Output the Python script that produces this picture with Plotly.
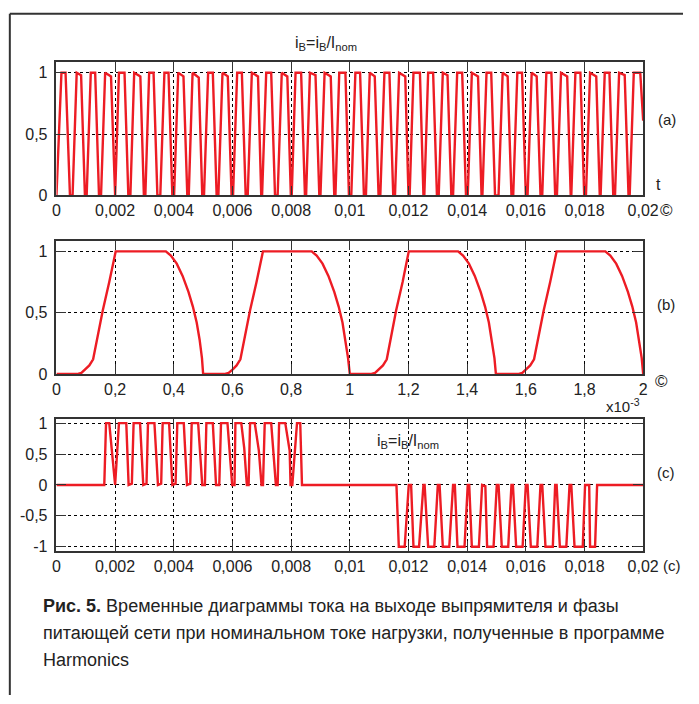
import plotly.graph_objects as go

W, H = 699, 704
RED = "#ed1c24"
AX = "#333333"

# ---------------- data ----------------
# (a) rectifier output current i_B = i_B / I_nom, t in seconds
a_t = [
    0.00000, 0.00017, 0.00031, 0.00046,
    0.00055, 0.00069, 0.00084, 0.00097,
    0.00103, 0.00117, 0.00132, 0.00145,
    0.00152, 0.00166, 0.00186, 0.00198,
    0.00200, 0.00213, 0.00232, 0.00245,
    0.00252, 0.00265, 0.00286, 0.00298,
    0.00303, 0.00316, 0.00331, 0.00344,
    0.00354, 0.00368, 0.00382, 0.00395,
    0.00401, 0.00415, 0.00433, 0.00446,
    0.00451, 0.00464, 0.00485, 0.00497,
    0.00503, 0.00517, 0.00533, 0.00546,
    0.00552, 0.00566, 0.00584, 0.00597,
    0.00602, 0.00616, 0.00632, 0.00645,
    0.00652, 0.00666, 0.00687, 0.00698,
    0.00701, 0.00715, 0.00732, 0.00745,
    0.00754, 0.00768, 0.00787, 0.00799,
    0.00802, 0.00815, 0.00834, 0.00847,
    0.00851, 0.00864, 0.00883, 0.00896,
    0.00900, 0.00914, 0.00935, 0.00947,
    0.00951, 0.00964, 0.00985, 0.00997,
    0.01005, 0.01019, 0.01035, 0.01048,
    0.01055, 0.01068, 0.01085, 0.01098,
    0.01104, 0.01118, 0.01135, 0.01148,
    0.01154, 0.01168, 0.01189, 0.01200,
    0.01204, 0.01217, 0.01239, 0.01251,
    0.01254, 0.01267, 0.01284, 0.01297,
    0.01303, 0.01317, 0.01333, 0.01346,
    0.01352, 0.01366, 0.01383, 0.01396,
    0.01402, 0.01416, 0.01437, 0.01449,
    0.01452, 0.01466, 0.01482, 0.01495,
    0.01507, 0.01521, 0.01538, 0.01551,
    0.01557, 0.01571, 0.01587, 0.01600,
    0.01606, 0.01620, 0.01637, 0.01650,
    0.01656, 0.01670, 0.01687, 0.01700,
    0.01706, 0.01720, 0.01741, 0.01753,
    0.01755, 0.01769, 0.01786, 0.01799,
    0.01805, 0.01819, 0.01840, 0.01852,
    0.01855, 0.01869, 0.01885, 0.01898,
    0.01904, 0.01918, 0.01937, 0.01950,
    0.01954, 0.01968, 0.01990, 0.02000,
]
a_y = [
    0, 1, 1, 0,
    0, 1, 0.98, 0,
    0, 1, 1, 0,
    0, 1, 0.97, 0,
    0, 1, 1, 0,
    0, 1, 0.97, 0,
    0, 1, 1, 0,
    0, 1, 1, 0,
    0, 1, 0.97, 0,
    0, 1, 0.96, 0,
    0, 1, 1, 0,
    0, 1, 0.97, 0,
    0, 1, 1, 0,
    0, 1, 0.97, 0,
    0, 1, 1, 0,
    0, 1, 0.97, 0,
    0, 1, 1, 0,
    0, 1, 0.98, 0,
    0, 1, 0.97, 0,
    0, 1, 1, 0,
    0, 1, 1, 0,
    0, 1, 0.97, 0,
    0, 1, 1, 0,
    0, 1, 0.97, 0,
    0, 1, 1, 0,
    0, 1, 1, 0,
    0, 1, 0.98, 0,
    0, 1, 1, 0,
    0, 1, 0.97, 0,
    0, 1, 1, 0,
    0, 1, 0.97, 0,
    0, 1, 1, 0,
    0, 1, 0.97, 0,
    0, 1, 1, 0,
    0, 1, 0.97, 0,
    0, 1, 1, 0,
    0, 1, 0.97, 0,
    0, 1, 1, 0,
    0, 1, 0.98, 0,
    0, 1, 1, 0.61,
]

# (b) zoomed current, t in units of 1e-3 s
b_t = [
    0.000, 0.070, 0.085, 0.100, 0.112, 0.125, 0.158, 0.180, 0.202,
    0.373, 0.390, 0.410, 0.430, 0.450, 0.465, 0.478, 0.488, 0.496, 0.500,
    0.572, 0.587, 0.602, 0.614, 0.627, 0.660, 0.682, 0.704,
    0.870, 0.887, 0.907, 0.927, 0.947, 0.962, 0.975, 0.985, 0.994, 1.000,
    1.071, 1.086, 1.101, 1.113, 1.126, 1.158, 1.180, 1.201,
    1.369, 1.386, 1.406, 1.426, 1.446, 1.461, 1.474, 1.484, 1.493, 1.498,
    1.573, 1.588, 1.603, 1.615, 1.628, 1.661, 1.683, 1.705,
    1.871, 1.888, 1.908, 1.928, 1.948, 1.963, 1.976, 1.986, 1.995, 2.000,
]
b_y = [
    0, 0, 0.01, 0.04, 0.07, 0.12, 0.52, 0.75, 1,
    1, 0.965, 0.9, 0.8, 0.67, 0.55, 0.42, 0.28, 0.13, 0,
    0, 0.01, 0.04, 0.07, 0.12, 0.52, 0.75, 1,
    1, 0.965, 0.9, 0.8, 0.67, 0.55, 0.42, 0.28, 0.13, 0,
    0, 0.01, 0.04, 0.07, 0.12, 0.52, 0.75, 1,
    1, 0.965, 0.9, 0.8, 0.67, 0.55, 0.42, 0.28, 0.13, 0,
    0, 0.01, 0.04, 0.07, 0.12, 0.52, 0.75, 1,
    1, 0.965, 0.9, 0.8, 0.67, 0.55, 0.42, 0.28, 0.13, 0,
]

# (c) phase current of the supply network, t in seconds
c_t = [
    0.00000, 0.00163, 0.00169, 0.00180, 0.00200,
    0.00213, 0.00238, 0.00246, 0.00257,
    0.00263, 0.00285, 0.00296, 0.00307,
    0.00312, 0.00334, 0.00346, 0.00357,
    0.00362, 0.00384, 0.00395, 0.00406,
    0.00412, 0.00434, 0.00445, 0.00456,
    0.00461, 0.00483, 0.00497, 0.00506,
    0.00511, 0.00533, 0.00544, 0.00555,
    0.00561, 0.00583, 0.00599, 0.00607,
    0.00610, 0.00630, 0.00640, 0.00649, 0.00655,
    0.00660, 0.00676, 0.00690, 0.00699, 0.00704,
    0.00710, 0.00732, 0.00748, 0.00754,
    0.00759, 0.00780, 0.00795, 0.00798, 0.00804,
    0.00820, 0.00831, 0.00837,
    0.01159, 0.01167, 0.01187, 0.01201, 0.01209,
    0.01217, 0.01236, 0.01251, 0.01255,
    0.01267, 0.01288, 0.01300, 0.01306,
    0.01317, 0.01339, 0.01352, 0.01358,
    0.01367, 0.01391, 0.01402, 0.01407,
    0.01416, 0.01440, 0.01451, 0.01462,
    0.01468, 0.01490, 0.01501, 0.01507,
    0.01518, 0.01540, 0.01551, 0.01556,
    0.01567, 0.01589, 0.01600, 0.01606,
    0.01617, 0.01639, 0.01650, 0.01656,
    0.01667, 0.01692, 0.01700, 0.01705,
    0.01716, 0.01738, 0.01749, 0.01755,
    0.01766, 0.01794, 0.01802, 0.01816,
    0.01819, 0.01836, 0.01843, 0.02000,
]
c_y = [
    0, 0, 1, 1, 0,
    1, 1, 0, 0.02,
    1, 1, 0, 0.02,
    1, 1, 0, 0.02,
    1, 1, 0, 0.02,
    1, 1, 0, 0.02,
    1, 1, 0, 0,
    1, 1, 0, 0,
    1, 1, 0, 0,
    1, 1, 0.6, 0, 0,
    1, 1, 0.55, 0, 0,
    1, 1, 0, 0,
    1, 1, 0.55, 0, 0,
    1, 1, 0,
    0, -1, -1, 0, 0,
    -1, -1, 0, 0,
    -1, -1, 0, 0,
    -1, -1, 0, 0,
    -1, -1, 0, 0,
    -1, -1, 0, -0.02,
    -1, -1, 0, 0,
    -1, -1, 0, 0,
    -1, -1, 0, 0,
    -1, -1, 0, 0,
    -1, -1, 0, 0,
    -1, -1, 0, 0,
    -1, -1, 0, 0,
    -1, -1, 0, 0,
]

x_ticks_ms = [0, 0.002, 0.004, 0.006, 0.008, 0.01, 0.012, 0.014, 0.016, 0.018, 0.02]
x_labels_ms = ["0", "0,002", "0,004", "0,006", "0,008", "0,01", "0,012",
               "0,014", "0,016", "0,018", "0,02"]
b_ticks = [0, 0.2, 0.4, 0.6, 0.8, 1, 1.2, 1.4, 1.6, 1.8, 2]
b_labels = ["0", "0,2", "0,4", "0,6", "0,8", "1", "1,2", "1,4", "1,6", "1,8", "2"]
y_ticks_ab = [0, 0.5, 1]
y_labels_ab = ["0", "0,5", "1"]
y_ticks_c = [-1, -0.5, 0, 0.5, 1]
y_labels_c = ["-1", "-0,5", "0", "0,5", "1"]

caption_bold = "Рис. 5."
caption_lines = [
    "Временные диаграммы тока на выходе выпрямителя и фазы",
    "питающей сети при номинальном токе нагрузки, полученные в программе",
    "Harmonics",
]

# ---------------- figure ----------------
def px(x):
    return x / W

def py(y):
    return 1 - y / H

fig = go.Figure()
for xs, ys, xa, ya in [(a_t, a_y, "x", "y"), (b_t, b_y, "x2", "y2"), (c_t, c_y, "x3", "y3")]:
    fig.add_trace(go.Scatter(x=xs, y=ys, xaxis=xa, yaxis=ya, mode="lines",
                             line=dict(color=RED, width=2.4), cliponaxis=False,
                             showlegend=False, hoverinfo="skip"))

TICKFONT = dict(family="Liberation Sans, Arial, sans-serif", size=16, color="#222")

def axis_style(**kw):
    d = dict(showline=True, linecolor=AX, linewidth=1.5, mirror="ticks",
             ticks="inside", ticklen=10, tickwidth=1.2, tickcolor=AX,
             showgrid=True, gridcolor="black", gridwidth=1, griddash="dot",
             zeroline=False, tickfont=TICKFONT, tickmode="array", fixedrange=True)
    d.update(kw)
    return d

xdom = [px(54), px(658)]
fig.update_layout(
    width=W, height=H, margin=dict(l=0, r=0, t=0, b=0),
    paper_bgcolor="white", plot_bgcolor="white",
    xaxis=axis_style(domain=xdom, anchor="y", range=[0, 0.02],
                     tickvals=x_ticks_ms, ticktext=x_labels_ms),
    yaxis=axis_style(domain=[py(195), py(59)], anchor="x", range=[0, 1.088],
                     tickvals=y_ticks_ab, ticktext=y_labels_ab, ticklabelstandoff=4),
    xaxis2=axis_style(domain=xdom, anchor="y2", range=[0, 2],
                      tickvals=b_ticks, ticktext=b_labels),
    yaxis2=axis_style(domain=[py(377), py(241)], anchor="x2", range=[0, 1.088],
                      tickvals=y_ticks_ab, ticktext=y_labels_ab, ticklabelstandoff=4),
    xaxis3=axis_style(domain=xdom, anchor="y3", range=[0, 0.02],
                      tickvals=x_ticks_ms, ticktext=x_labels_ms),
    yaxis3=axis_style(domain=[py(557), py(423)], anchor="x3", range=[-1.063, 1.063],
                      tickvals=y_ticks_c, ticktext=y_labels_c, ticklabelstandoff=4),
)

# outer frame (top and left edges)
fig.add_shape(type="line", xref="paper", yref="paper", x0=px(6), x1=1.0, y0=py(10), y1=py(10),
              line=dict(color=AX, width=2))
fig.add_shape(type="line", xref="paper", yref="paper", x0=px(6), x1=px(6), y0=py(10), y1=0,
              line=dict(color=AX, width=2))

LBL = dict(family="Liberation Sans, Arial, sans-serif", color="#222")

def ann(text, x, y, size=16, xanchor="center", family=None, color=None):
    f = dict(LBL, size=size)
    if family:
        f["family"] = family
    if color:
        f["color"] = color
    fig.add_annotation(x=px(x), y=py(y), xref="paper", yref="paper", text=text,
                       showarrow=False, xanchor=xanchor, yanchor="middle", font=f)

title = "i<sub>B</sub>=i<sub>B</sub>/I<sub>nom</sub>"
ann(title, 331, 40, size=16)
ann("t", 674, 184, size=16)
ann("(a)", 683, 118, size=15)
ann("©", 682, 210, size=17)
ann("(b)", 682, 306, size=15)
ann("©", 677, 385, size=17)
ann("x10<sup>-3</sup>", 637, 409, size=15)
ann(title, 416, 446, size=16)
ann("(c)", 682, 477, size=15)
ann("(c)", 688, 572, size=15)

CAP = "Liberation Sans, Arial, sans-serif"
ann("<b>" + caption_bold + "</b> " + caption_lines[0], 38, 613, size=18, xanchor="left",
    family=CAP, color="#222")
ann(caption_lines[1], 38, 641, size=18, xanchor="left", family=CAP, color="#222")
ann(caption_lines[2], 38, 668, size=18, xanchor="left", family=CAP, color="#222")

fig.write_html("out.html", config={"displayModeBar": False},
               post_script="document.body.style.margin='0px';"
                           "document.body.style.overflow='hidden';")
